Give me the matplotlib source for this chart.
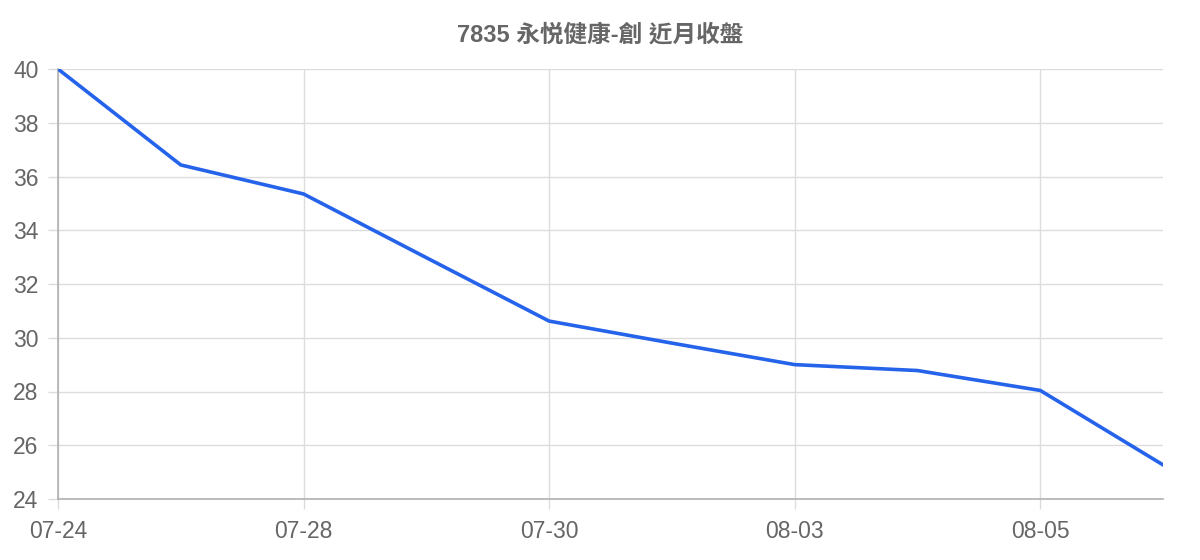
import matplotlib
matplotlib.use('Agg')
import matplotlib.pyplot as plt

plt.rcParams['font.family'] = ['Liberation Sans', 'Noto Sans CJK TC', 'DejaVu Sans']

dates = ['07-24', '07-25', '07-28', '07-29', '07-30', '07-31', '08-03', '08-04', '08-05', '08-06']
closes = [40.0, 36.43, 35.35, 32.98, 30.62, 29.8, 29.0, 28.78, 28.04, 25.27]
yticks = [24, 26, 28, 30, 32, 34, 36, 38, 40]
title = '7835 永悦健康-創 近月收盤'

fig = plt.figure(figsize=(12, 5.6), dpi=100)
ax = fig.add_axes([58/1200, 1 - 499/560, (1163 - 58)/1200, (499 - 69)/560])

x = list(range(len(dates)))
ax.plot(x, closes, color='#2563eb', lw=2.6, solid_joinstyle='round', zorder=3)

ax.set_xlim(0, len(dates) - 1)
ax.set_ylim(24, 40)
ax.set_yticks(yticks)
ax.set_xticks(x[::2])
ax.set_xticklabels(dates[::2])

ax.grid(True, color='#dcdcdc', lw=1.0)
for s in ['top', 'right']:
    ax.spines[s].set_visible(False)
for s in ['left', 'bottom']:
    ax.spines[s].set_color('#b0b0b0')
    ax.spines[s].set_linewidth(1.2)
ax.tick_params(axis='both', colors='#dcdcdc', length=7, width=1.0, labelcolor='#666666', labelsize=16.5)
ax.tick_params(axis='y', pad=7)
ax.tick_params(axis='x', pad=8)

fig.text(600/1200, 1 - 35/560, title, ha='center', va='center', fontsize=17, fontweight='bold', color='#666666')

fig.savefig('out.png', dpi=100)
